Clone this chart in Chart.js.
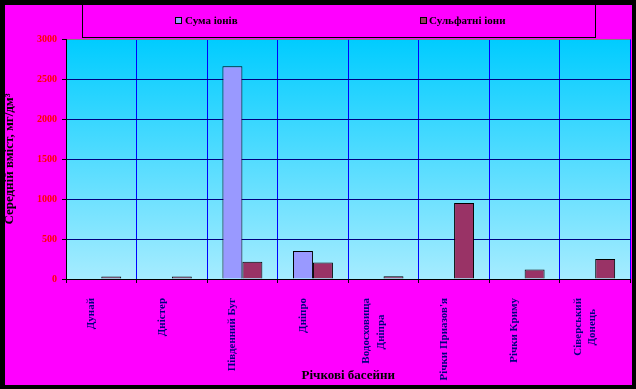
<!DOCTYPE html>
<html><head><meta charset="utf-8">
<script src="https://cdn.jsdelivr.net/npm/chart.js@4/dist/chart.umd.min.js"></script>
<style>
html,body{margin:0;padding:0;background:#000;width:636px;height:389px;overflow:hidden}
#wrap{position:absolute;left:5px;top:5px;width:627px;height:380px;background:#FF00FF}
canvas{display:block}
</style></head><body>
<div id="wrap"><canvas id="c" width="627" height="380"></canvas></div>
<script>
const categories = [['Дунай'], ['Дністер'], ['Південний Буг'], ['Дніпро'], ['Водосховища','Дніпра'], ["Річки Приазов'я"], ['Річки Криму'], ['Сіверський','Донець']];
const seriesNames = ['Сума іонів', 'Сульфатні іони'];
const sumIons = [null, null, 2660, 350, null, null, null, null];
const sulfateIons = [30, 30, 215, 205, 35, 950, 120, 250];
const yTicks = [0, 500, 1000, 1500, 2000, 2500, 3000];
const colors = ['#9999FF', '#993366'];

const SERIF = '"Liberation Serif", "Times New Roman", serif';
const TICK_FONT = 'bold 11px ' + SERIF;
const mctx = document.createElement('canvas').getContext('2d');
mctx.font = TICK_FONT;
function centerLines(lines){
  if (lines.length === 1) return ['', lines[0]];
  const w = lines.map(l => mctx.measureText(l).width);
  const max = Math.max(...w);
  const sp = mctx.measureText(' ').width;
  const out = lines.map((l, i) => l + ' '.repeat(Math.round((max - w[i]) / 2 / sp)));
  return [out[0], '', out[1]];
}

const bgPlugin = {
  id: 'plotBg',
  beforeDraw(chart){
    const a = chart.chartArea, ctx = chart.ctx;
    const g = ctx.createLinearGradient(0, a.top, 0, a.bottom);
    g.addColorStop(0, '#00CCFF');
    g.addColorStop(1, '#A6ECFF');
    ctx.save();
    ctx.fillStyle = g;
    ctx.fillRect(a.left, a.top, a.right - a.left, a.bottom - a.top);
    ctx.restore();
  }
};

const legendPlugin = {
  id: 'boxLegend',
  afterDraw(chart){
    const ctx = chart.ctx;
    ctx.save();
    ctx.strokeStyle = '#000';
    ctx.lineWidth = 1;
    ctx.strokeRect(77.5, -1, 513, 33.5);
    const items = [{bx: 170, tx: 180}, {bx: 415, tx: 424}];
    ctx.font = 'bold 11px ' + SERIF;
    ctx.textBaseline = 'middle';
    ctx.textAlign = 'left';
    chart.data.datasets.forEach((ds, i) => {
      const it = items[i];
      ctx.fillStyle = ds.backgroundColor;
      ctx.fillRect(it.bx, 12, 7, 7);
      ctx.strokeRect(it.bx + 0.5, 12.5, 6, 6);
      ctx.fillStyle = '#000';
      ctx.fillText(ds.label, it.tx, 16);
    });
    ctx.restore();
  }
};

new Chart(document.getElementById('c'), {
  type: 'bar',
  data: {
    labels: categories.map(centerLines),
    datasets: [
      {label: seriesNames[0], data: sumIons, backgroundColor: colors[0], borderColor: '#000', borderWidth: 1},
      {label: seriesNames[1], data: sulfateIons, backgroundColor: colors[1], borderColor: '#000', borderWidth: 1}
    ]
  },
  options: {
    responsive: false,
    animation: false,
    devicePixelRatio: 1,
    layout: {padding: {top: 34, right: 1, left: 0, bottom: 0}},
    datasets: {bar: {categoryPercentage: 0.566, barPercentage: 1}},
    plugins: {legend: {display: false}, tooltip: {enabled: false}},
    scales: {
      x: {
        grid: {color: '#0000FF', lineWidth: 1, tickColor: '#000', tickLength: 4, offset: true},
        border: {color: '#000', width: 1},
        ticks: {color: '#000080', font: {family: SERIF, size: 11, weight: 'bold', lineHeight: '7.25px'},
                minRotation: 90, maxRotation: 90, autoSkip: false, padding: 15, labelOffset: -17.25},
        title: {display: true, text: 'Річкові басейни', color: '#000',
                font: {family: SERIF, size: 13, weight: 'bold'}, padding: {top: 0, bottom: 2}},
        afterFit(s){ s.height = 106; }
      },
      y: {
        min: 0, max: 3000,
        afterBuildTicks(s){ s.ticks = yTicks.map(v => ({value: v})); },
        grid: {color: c => (c.tick && c.tick.value === 3000) ? '#808080' : '#000080', tickColor: '#000', tickLength: 4},
        border: {color: '#000', width: 1},
        ticks: {color: '#FF0000', font: {family: SERIF, size: 10, weight: 'bold'}, padding: 5,
                callback: v => String(v)},
        title: {display: true, text: 'Середній вміст, мг/дм³', color: '#000',
                font: {family: SERIF, size: 13, weight: 'bold', lineHeight: 0.7}, padding: 0},
        afterFit(s){ s.width = 61; }
      }
    }
  },
  plugins: [bgPlugin, legendPlugin]
});
</script>
</body></html>
